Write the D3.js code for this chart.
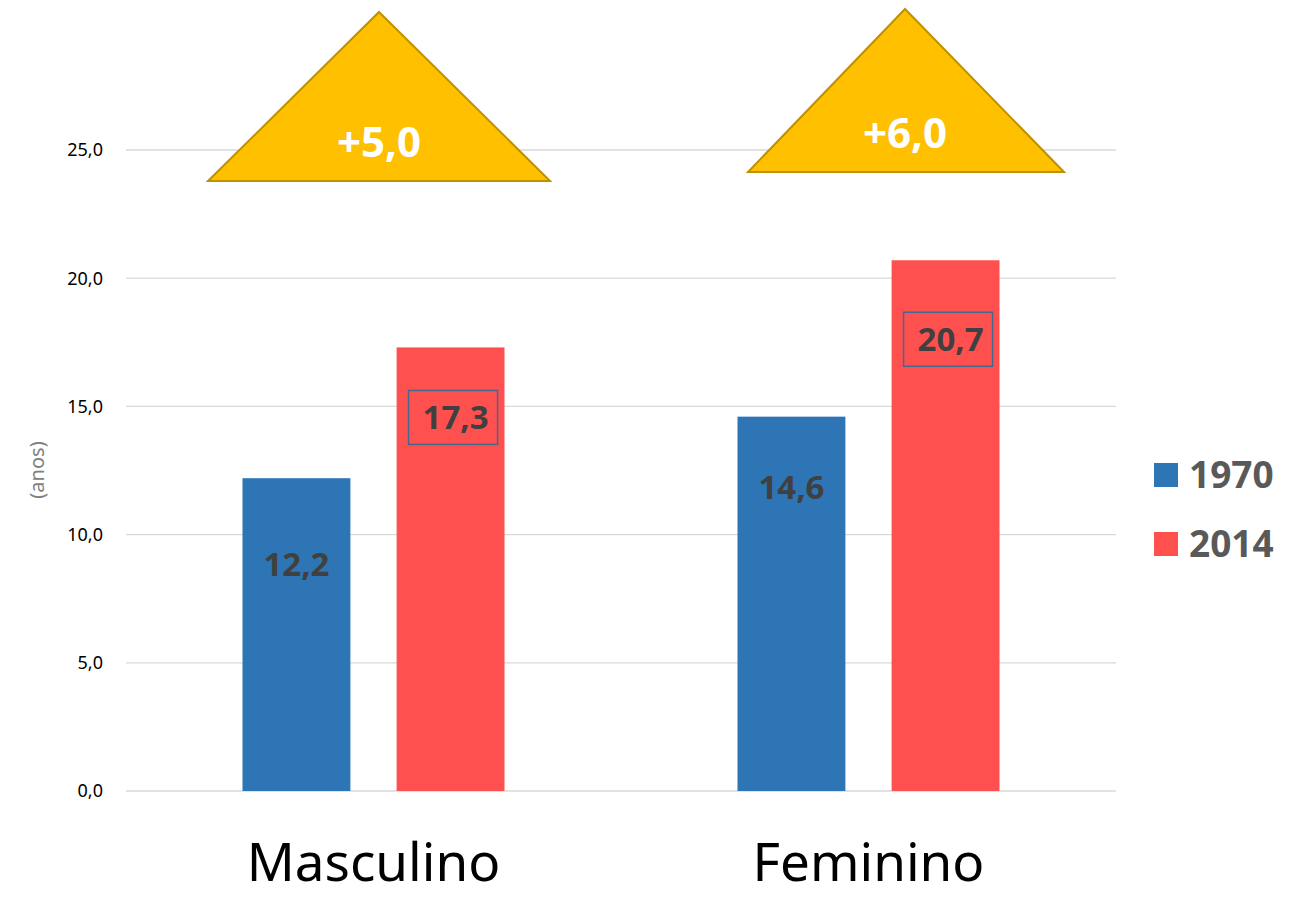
<!DOCTYPE html>
<html>
<head>
<meta charset="utf-8">
<script src="https://cdn.jsdelivr.net/npm/d3@7"></script>
<style>
  body { margin: 0; background: #fff; }
  svg { display: block; font-family: 'Noto Sans', 'Open Sans', sans-serif; }
</style>
</head>
<body>
<div id="chart"></div>
<script>
const categories = ['Masculino', 'Feminino']
const seriesNames = ['1970', '2014']
const values1970 = [12.2, 14.6]
const values2014 = [17.3, 20.7]
const differences = ['+5,0', '+6,0']
const yTicks = [0, 5, 10, 15, 20, 25]

const width = 1296
const height = 899
const colors = { '1970': '#2E75B6', '2014': '#FF5050' }

const svg = d3.select('#chart')
  .append('svg')
  .attr('width', width)
  .attr('height', height)

const x = d3.scaleBand().domain(categories).range([126, 1116])
const y = d3.scaleLinear().domain([0, 25]).range([791, 150])
const xSeries = d3.scaleBand().domain(seriesNames).range([0, 262]).paddingInner(0.3)

const fmt = (v) => d3.format('.1f')(v).replace('.', ',')

// gridlines + tick labels
svg.append('g')
  .selectAll('line')
  .data(yTicks)
  .join('line')
  .attr('x1', 126).attr('x2', 1116)
  .attr('y1', (d) => y(d)).attr('y2', (d) => y(d))
  .attr('stroke', '#d9d9d9')
  .attr('stroke-width', 1.3)

svg.append('g')
  .selectAll('text')
  .data(yTicks)
  .join('text')
  .attr('x', 103)
  .attr('y', (d) => y(d))
  .attr('dy', '0.35em')
  .attr('text-anchor', 'end')
  .attr('font-size', 18)
  .attr('fill', '#000')
  .text(fmt)

svg.append('text')
  .attr('transform', 'translate(44,470) rotate(-90)')
  .attr('text-anchor', 'middle')
  .attr('font-size', 20)
  .attr('fill', '#808080')
  .text('(anos)')

// bars
const rows = categories.map((c, i) => ({ cat: c, '1970': values1970[i], '2014': values2014[i] }))
const barLeft = (cat, s) => x(cat) + x.bandwidth() / 2 - 131 + xSeries(s)

seriesNames.forEach((s) => {
  svg.append('g')
    .selectAll('rect')
    .data(rows)
    .join('rect')
    .attr('x', (d) => barLeft(d.cat, s))
    .attr('y', (d) => y(d[s]))
    .attr('width', xSeries.bandwidth())
    .attr('height', (d) => y(0) - y(d[s]))
    .attr('fill', colors[s])
})

// data labels (offset below bar top)
const labelOffsets = { '1970': [86, 70], '2014': [70, 79] }
seriesNames.forEach((s) => {
  rows.forEach((d, i) => {
    const cx = barLeft(d.cat, s) + xSeries.bandwidth() / 2 + (s === '2014' ? 3 : 0)
    const cy = y(d[s]) + labelOffsets[s][i]
    if (s === '2014') {
      svg.append('rect')
        .attr('x', cx - 45)
        .attr('y', cy - 27)
        .attr('width', 89)
        .attr('height', 54)
        .attr('fill', 'none')
        .attr('stroke', '#44698f')
        .attr('stroke-width', 1.5)
    }
    svg.append('text')
      .attr('x', cx + (s === '2014' ? 2 : 0))
      .attr('y', cy)
      .attr('dy', '0.36em')
      .attr('text-anchor', 'middle')
      .attr('font-size', 33)
      .attr('font-weight', 700)
      .attr('fill', '#404040')
      .text(fmt(d[s]))
  })
})

// difference triangles
const triangles = [
  { apex: [379, 12], left: 208, right: 550, base: 181, ty: 142 },
  { apex: [905, 9], left: 748, right: 1064, base: 172, ty: 133 },
]
triangles.forEach((t, i) => {
  svg.append('path')
    .attr('d', d3.line()([t.apex, [t.right, t.base], [t.left, t.base]]) + 'Z')
    .attr('fill', '#FFC000')
    .attr('stroke', '#BF9000')
    .attr('stroke-width', 2)
  svg.append('text')
    .attr('x', t.apex[0])
    .attr('y', t.ty)
    .attr('dy', '0.36em')
    .attr('text-anchor', 'middle')
    .attr('font-size', 42)
    .attr('font-weight', 700)
    .attr('fill', '#fff')
    .text(differences[i])
})

// category labels
svg.append('g')
  .selectAll('text')
  .data(categories)
  .join('text')
  .attr('x', (d) => x(d) + x.bandwidth() / 2)
  .attr('y', 881)
  .attr('text-anchor', 'middle')
  .attr('font-size', 53)
  .attr('fill', '#000')
  .text((d) => d)

// legend
const legend = svg.append('g')
  .selectAll('g')
  .data(seriesNames)
  .join('g')
  .attr('transform', (d, i) => `translate(1154,${475 + i * 69})`)
legend.append('rect')
  .attr('x', 0).attr('y', -12)
  .attr('width', 24).attr('height', 24)
  .attr('fill', (d) => colors[d])
legend.append('text')
  .attr('x', 35)
  .attr('dy', '0.36em')
  .attr('font-size', 37)
  .attr('font-weight', 700)
  .attr('fill', '#595959')
  .text((d) => d)
</script>
</body>
</html>
